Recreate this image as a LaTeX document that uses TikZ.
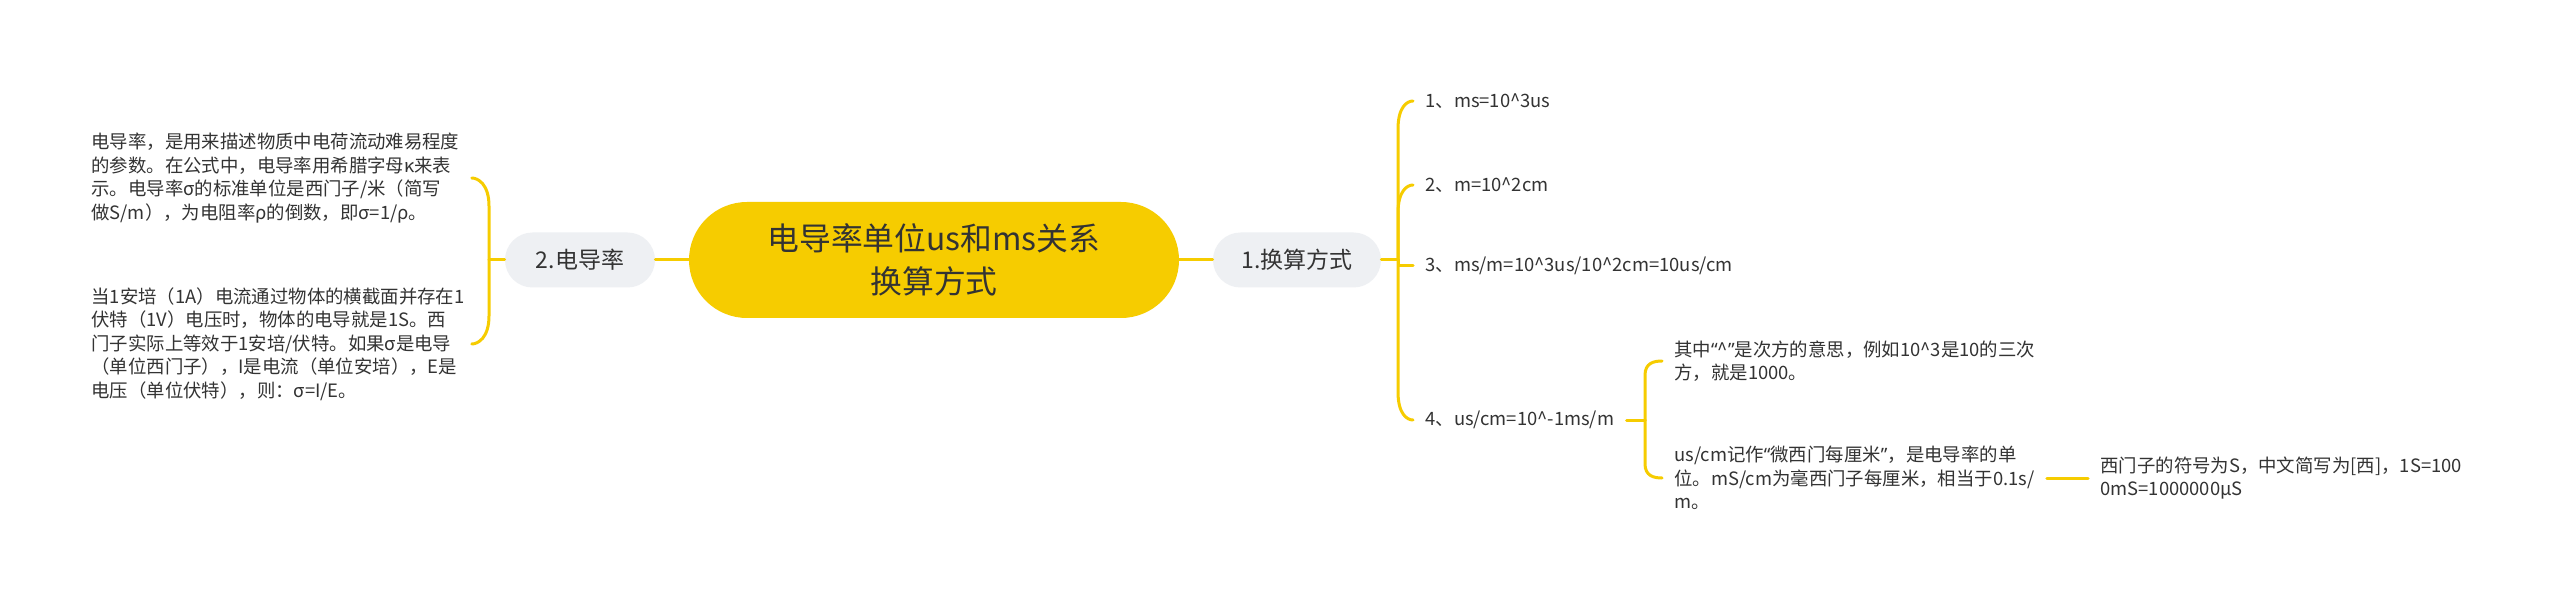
\documentclass[tikz,border=0pt]{standalone}
\usepackage{fontspec}
\setmainfont{Noto Sans CJK SC}
\newfontfamily\quotefont{Noto Sans}
\usepackage{tikz}
\usetikzlibrary{calc}
\definecolor{wwccqq}{rgb}{0.9647,0.8,0.}
\definecolor{eeefff}{rgb}{0.933,0.941,0.953}
\definecolor{ssssss}{rgb}{0.2,0.2,0.2}
\newcommand{\openq}{{\quotefont “}}
\newcommand{\closeq}{{\quotefont ”}}

\begin{document}
\begin{tikzpicture}[line cap=round,line join=round,x=0.5pt,y=-0.5pt,
    link/.style={line width=1.5pt,color=wwccqq},
    root/.style={fill=wwccqq,rounded corners=29pt,minimum width=245pt,minimum height=58pt,inner sep=0pt,align=center,text=ssssss,font=\fontsize{15.9}{21.5}\selectfont},
    topic/.style={fill=eeefff,rounded corners=13.75pt,minimum height=27.5pt,inner sep=0pt,text=ssssss,font=\fontsize{11.5}{14}\selectfont},
    leaf/.style={inner xsep=6pt,inner ysep=0pt,align=left,text=ssssss,font=\fontsize{9.2}{11.75}\selectfont},
    note/.style={leaf,inner xsep=0pt,text width=190pt}]
\useasboundingbox[fill=white] (0,0) rectangle (2560,604);
% centre and the two topics
\node[root] (root) at (934,260) {电导率单位us和ms关系\\换算方式};
\node[topic,minimum width=84pt] (conv) at (1297,260) {1.换算方式};
\node[topic,minimum width=75pt] (cond) at (580,260) {2.电导率};
\coordinate (jr) at (1398,260);
\coordinate (jl) at (489,260);
\coordinate (js) at (1645,420);
% right side
\node[leaf,anchor=west] (r1) at (1413,101) {1、ms=10\textasciicircum3us};
\node[leaf,anchor=west] (r2) at (1413,185) {2、m=10\textasciicircum2cm};
\node[leaf,anchor=west] (r3) at (1413,266) {3、ms/m=10\textasciicircum3us/10\textasciicircum2cm=10us/cm};
\node[leaf,anchor=west] (r4) at (1413,420) {4、us/cm=10\textasciicircum-1ms/m};
\node[leaf,anchor=west] (s1) at (1662,361) {其中\openq\textasciicircum\closeq 是次方的意思，例如10\textasciicircum3是10的三次\\方，就是1000。};
\node[leaf,anchor=west] (s2) at (1662,478) {us/cm记作\openq 微西门每厘米\closeq ，是电导率的单\\位。mS/cm为毫西门子每厘米，相当于0.1s/\\m。};
\node[leaf,anchor=west] (s3) at (2088,478) {西门子的符号为S，中文简写为[西]，1S=100\\0mS=1000000μS};
% left side
\node[note,anchor=west] (l1) at (91,178) {电导率，是用来描述物质中电荷流动难易程度\\的参数。在公式中，电导率用希腊字母κ来表\\示。电导率σ的标准单位是西门子/米（简写\\做S/m），为电阻率ρ的倒数，即σ=1/ρ。};
\node[note,anchor=west] (l2) at (91,344) {当1安培（1A）电流通过物体的横截面并存在1\\伏特（1V）电压时，物体的电导就是1S。西\\门子实际上等效于1安培/伏特。如果σ是电导\\（单位西门子），I是电流（单位安培），E是\\电压（单位伏特），则：σ=I/E。};
% connectors
\draw[link] (root.west) -- (cond.east);
\draw[link] (root.east) -- (conv.west);
\draw[link] (conv.east) -- (jr);
\draw[link] (jr) -- ($(jr|-r1.west)+(0,28)$) .. controls ($(jr|-r1.west)+(0,6)$) and ($(r1.west)+(-6,0)$) .. (r1.west);
\draw[link] (jr) -- ($(jr|-r2.west)+(0,28)$) .. controls ($(jr|-r2.west)+(0,6)$) and ($(r2.west)+(-6,0)$) .. (r2.west);
\draw[link] (jr) |- (r3.west);
\draw[link] (jr) -- ($(jr|-r4.west)+(0,-28)$) .. controls ($(jr|-r4.west)+(0,-6)$) and ($(r4.west)+(-6,0)$) .. (r4.west);
\draw[link] (r4.east) -- (js);
\draw[link] (js) -- ($(js|-s1.west)+(0,14)$) .. controls ($(js|-s1.west)+(0,2)$) and ($(s1.west)+(-8,0)$) .. (s1.west);
\draw[link] (js) -- ($(js|-s2.west)+(0,-14)$) .. controls ($(js|-s2.west)+(0,-2)$) and ($(s2.west)+(-8,0)$) .. (s2.west);
\draw[link] (s2.east) -- (s3.west);
\draw[link] (cond.west) -- (jl);
\draw[link] (jl) -- ($(jl|-l1.east)+(0,28)$) .. controls ($(jl|-l1.east)+(0,6)$) and ($(l1.east)+(6,0)$) .. (l1.east);
\draw[link] (jl) -- ($(jl|-l2.east)+(0,-28)$) .. controls ($(jl|-l2.east)+(0,-6)$) and ($(l2.east)+(6,0)$) .. (l2.east);
\end{tikzpicture}
\end{document}
